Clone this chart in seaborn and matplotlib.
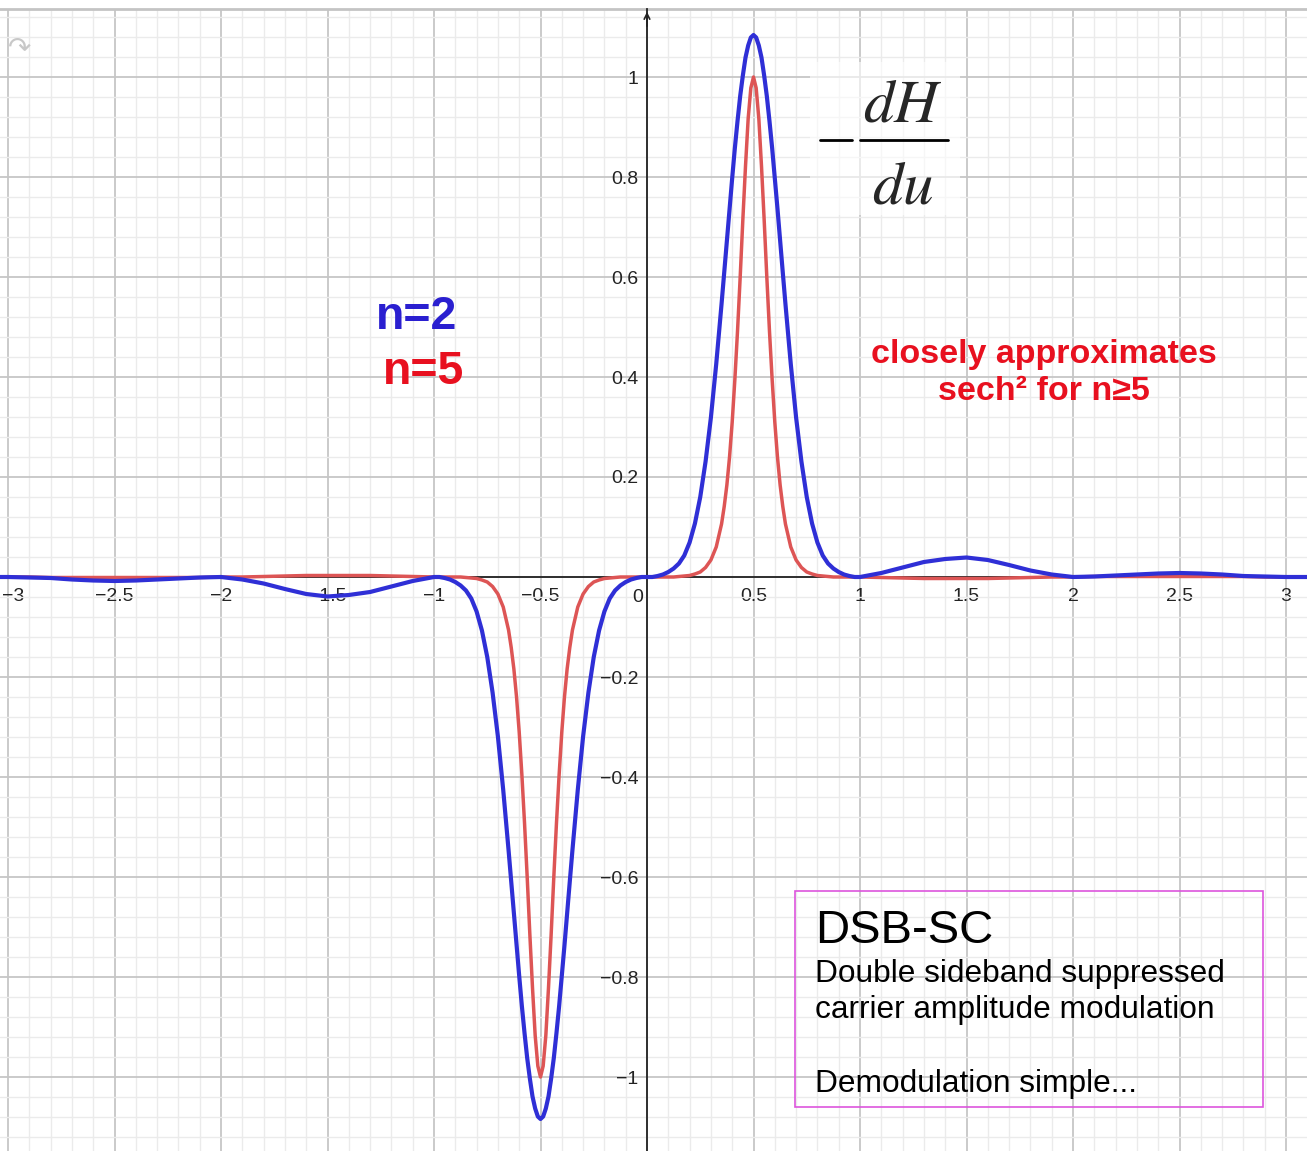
import numpy as np
import pandas as pd
import seaborn as sns
import matplotlib.pyplot as plt
from matplotlib.ticker import MultipleLocator, FuncFormatter
from matplotlib.patches import Rectangle
from matplotlib.lines import Line2D
from matplotlib.transforms import ScaledTranslation

# values for u >= 0 (both curves are odd in u)
u_pos = [0.0, 0.025, 0.05, 0.075, 0.1, 0.125, 0.15, 0.175, 0.2, 0.225,
         0.25, 0.275, 0.3, 0.325, 0.35, 0.3625, 0.375, 0.3875, 0.4, 0.4125,
         0.425, 0.4375, 0.45, 0.4625, 0.475, 0.4875, 0.5, 0.5125, 0.525, 0.5375,
         0.55, 0.5625, 0.575, 0.5875, 0.6, 0.6125, 0.625, 0.6375, 0.65, 0.675,
         0.7, 0.725, 0.75, 0.775, 0.8, 0.825, 0.85, 0.875, 0.9, 0.925,
         0.95, 0.975, 1.0, 1.1, 1.2, 1.3, 1.4, 1.5, 1.6, 1.7,
         1.8, 1.9, 2.0, 2.1, 2.2, 2.3, 2.4, 2.5, 2.6, 2.7,
         2.8, 2.9, 3.0, 3.1]
n2_pos = [0.000, 0.000, 0.002, 0.005, 0.010, 0.017, 0.027, 0.043, 0.069, 0.107,
          0.160, 0.231, 0.319, 0.426, 0.546, 0.609, 0.672, 0.737, 0.798, 0.858,
          0.912, 0.962, 1.003, 1.039, 1.063, 1.079, 1.084, 1.079, 1.063, 1.039,
          1.003, 0.962, 0.912, 0.858, 0.798, 0.737, 0.672, 0.609, 0.546, 0.426,
          0.319, 0.231, 0.160, 0.107, 0.069, 0.043, 0.027, 0.017, 0.010, 0.005,
          0.002, 0.000, 0.000, 0.008, 0.019, 0.030, 0.036, 0.039, 0.034, 0.024,
          0.013, 0.005, 0.000, 0.001, 0.003, 0.005, 0.007, 0.008, 0.007, 0.005,
          0.002, 0.001, 0.000, 0.000]
n5_pos = [0.000, 0.000, 0.000, 0.000, 0.000, 0.000, 0.001, 0.002, 0.003, 0.006,
          0.010, 0.019, 0.034, 0.060, 0.106, 0.141, 0.184, 0.240, 0.310, 0.395,
          0.492, 0.600, 0.715, 0.822, 0.917, 0.978, 1.000, 0.978, 0.917, 0.822,
          0.715, 0.600, 0.492, 0.395, 0.310, 0.240, 0.184, 0.141, 0.106, 0.060,
          0.034, 0.019, 0.010, 0.006, 0.003, 0.002, 0.001, 0.000, 0.000, 0.000,
          0.000, 0.000, 0.000, -0.001, -0.002, -0.003, -0.003, -0.003, -0.003, -0.002,
          -0.001, 0.000, 0.000, 0.001, 0.001, 0.001, 0.001, 0.001, 0.001, 0.001,
          0.001, 0.000, 0.000, 0.000]

box_lines = ['Double sideband suppressed', 'carrier amplitude modulation', '', 'Demodulation simple...']

# colors
blue = '#2f2fd6'
red = '#dd5555'
blue_text = '#2a1fd0'
red_text = '#e8101f'


def mirror(vals):
    vals = list(vals)
    return [-v for v in vals[:0:-1]] + vals


df = pd.DataFrame({
    'u': mirror(u_pos),
    'n2': mirror(n2_pos),
    'n5': mirror(n5_pos),
})

sns.set_style('white')
plt.rcParams['font.family'] = ['Liberation Sans', 'DejaVu Sans']

W, H = 1307, 1151
fig = plt.figure(figsize=(W / 100, H / 100), dpi=100)
ax = fig.add_axes([0, 0, 1, 1 - 9 / H])

sns.lineplot(data=df, x='u', y='n5', color=red, linewidth=2.5, ax=ax, zorder=4,
             solid_joinstyle='round')
sns.lineplot(data=df, x='u', y='n2', color=blue, linewidth=3.0, ax=ax, zorder=5,
             solid_joinstyle='round')

ax.set_xlim(-647 / 213, (W - 647) / 213)
ax.set_ylim((577 - H) / 500, (577 - 9) / 500)
ax.set_xlabel('')
ax.set_ylabel('')

# grid like geogebra
ax.xaxis.set_major_locator(MultipleLocator(0.5))
ax.xaxis.set_minor_locator(MultipleLocator(0.1))
ax.yaxis.set_major_locator(MultipleLocator(0.2))
ax.yaxis.set_minor_locator(MultipleLocator(0.04))
ax.grid(which='major', color='#c6c6c6', linewidth=1.3)
ax.grid(which='minor', color='#ebebeb', linewidth=1.0)
ax.set_axisbelow(True)


def fmt(v, pos):
    if abs(v) < 1e-9:
        return ''
    return f'{v:g}'.replace('-', '\u2212')


ax.xaxis.set_major_formatter(FuncFormatter(fmt))
ax.yaxis.set_major_formatter(FuncFormatter(fmt))
ax.tick_params(axis='both', which='both', length=0, labelsize=14, colors='#222222')
ax.tick_params(axis='x', pad=8)
ax.tick_params(axis='y', pad=6)

# axes through the origin
ax.spines['left'].set_position(('data', 0))
ax.spines['bottom'].set_position(('data', 0))
for side in ['left', 'bottom']:
    ax.spines[side].set_color('#222222')
    ax.spines[side].set_linewidth(1.3)
    ax.spines[side].set_zorder(3)
ax.spines['right'].set_visible(False)
ax.spines['top'].set_color('#c4c4c4')
ax.spines['top'].set_linewidth(2)
ax.text(-0.045, -0.042, '0', fontsize=14, color='#222222', ha='center', va='center')
ax.annotate('', xy=(0, ax.get_ylim()[1]), xytext=(0, ax.get_ylim()[1] - 0.04),
            arrowprops=dict(arrowstyle='->', color='#222222', lw=1.2))

# keep the leftmost x label inside the picture
fig.canvas.draw()
for lbl in ax.get_xticklabels():
    if lbl.get_text() == '\u22123':
        lbl.set_horizontalalignment('left')
        lbl.set_transform(lbl.get_transform() + ScaledTranslation(-0.06, 0, fig.dpi_scale_trans))

# redo icon
fig.text(20 / W, 1 - 48 / H, '\u21b7', fontsize=20, color='#c8c8c8',
         ha='center', va='center', family='DejaVu Sans')

# formula  -dH/du  on a faint white patch
fig.add_artist(Rectangle((810 / W, 1 - 215 / H), 150 / W, 153 / H, transform=fig.transFigure,
                         facecolor='white', edgecolor='none', alpha=0.6, zorder=6))
fig.add_artist(Line2D([820 / W, 852 / W], [1 - 140 / H] * 2, transform=fig.transFigure,
                      color='black', linewidth=2.0, zorder=7))
fig.add_artist(Line2D([860 / W, 948 / W], [1 - 140 / H] * 2, transform=fig.transFigure,
                      color='black', linewidth=2.0, zorder=7))
fig.text(903 / W, 1 - 121 / H, r'$dH$', fontsize=44, math_fontfamily='stix',
         ha='center', va='baseline', zorder=7)
fig.text(903 / W, 1 - 203 / H, r'$du$', fontsize=44, math_fontfamily='stix',
         ha='center', va='baseline', zorder=7)

# labels
fig.text(417 / W, 1 - 329 / H, 'n=2', fontsize=33.5, fontweight='bold', color=blue_text,
         ha='center', va='baseline')
fig.text(424 / W, 1 - 384 / H, 'n=5', fontsize=33.5, fontweight='bold', color=red_text,
         ha='center', va='baseline')
fig.text(1043.5 / W, 1 - 363 / H, 'closely approximates', fontsize=24.5, fontweight='bold',
         color=red_text, ha='center', va='baseline')
fig.text(1043.5 / W, 1 - 400 / H, 'sech\u00b2 for n\u22655', fontsize=24.5, fontweight='bold',
         color=red_text, ha='center', va='baseline')

# DSB-SC box
fig.add_artist(Rectangle((794.5 / W, 1 - 1106.5 / H), (1263.3 - 794.5) / W, (1106.5 - 891) / H,
                         transform=fig.transFigure, fill=False, edgecolor='#dd55dd', linewidth=1.2))
fig.text(815 / W, 1 - 943 / H, 'DSB-SC', fontsize=34, color='black', va='baseline')
for i, line in enumerate(box_lines):
    fig.text(815 / W, 1 - (981.7 + 36.7 * i) / H, line, fontsize=22.8, color='black', va='baseline')

fig.savefig('out.png', dpi=100)
